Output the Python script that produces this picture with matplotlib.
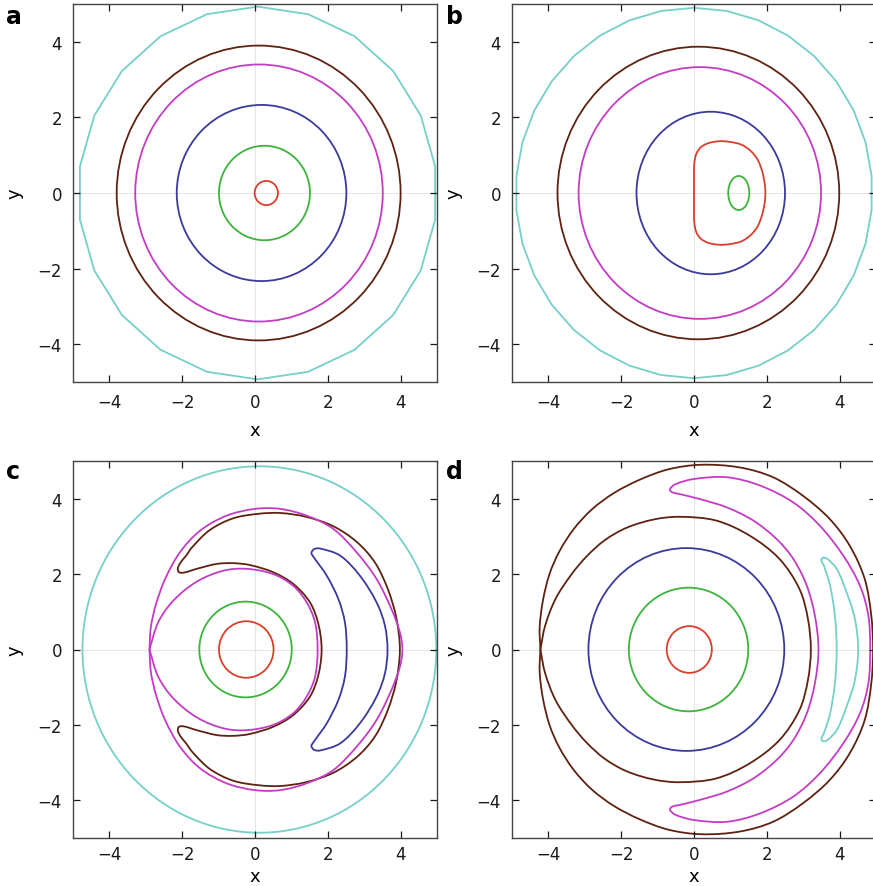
import numpy as np
import matplotlib.pyplot as plt
from matplotlib.patches import Circle, Ellipse, RegularPolygon, PathPatch
from matplotlib.path import Path

plt.rcParams['font.family'] = ['DejaVu Sans']

# contour colours, from the innermost level outwards
colours = {
    'red': '#d8402c',
    'green': '#3cb43c',
    'blue': '#3a3a9c',
    'magenta': '#c43cc4',
    'brown': '#5e2210',
    'cyan': '#74d0c8',
}

ticks = [-4, -2, 0, 2, 4]

# ---- panel a : near-circular levels (centre x, radius)
a_names = ['red', 'green', 'blue', 'magenta', 'brown']
a_cx = [0.31, 0.26, 0.18, 0.11, 0.10]
a_r = [0.32, 1.25, 2.33, 3.40, 3.90]
a_poly = (0.07, 4.93, 22)          # coarse outer cyan contour: cx, r, vertices

# ---- panel b
b_names = ['magenta', 'brown']
b_cx = [0.16, 0.12]
b_r = [3.33, 3.87]
b_ell_names = ['blue', 'green']
b_ell_cx = [0.46, 1.23]
b_ell_rx = [2.04, 0.29]
b_ell_ry = [2.15, 0.45]
b_poly = (0.0, 4.90, 34)
# closed curves are given by their upper half (y >= 0); they are symmetric in y
b_red_x = [0.0, 0.0, 0.01, 0.07, 0.2, 0.4, 0.7, 1.0, 1.3, 1.55, 1.75, 1.88, 1.95, 1.96]
b_red_y = [0.0, 0.5, 0.8, 1.05, 1.22, 1.32, 1.37, 1.35, 1.28, 1.12, 0.88, 0.55, 0.2, 0.0]

# ---- panel c
c_names = ['red', 'green', 'cyan']
c_cx = [-0.24, -0.26, 0.12]
c_r = [0.75, 1.27, 4.86]
c_blue_x = [2.52, 2.47, 2.29, 1.97, 1.62, 1.55, 1.62, 1.78, 2.34, 2.88, 3.34, 3.57, 3.64]
c_blue_y = [0.0, 0.72, 1.34, 1.96, 2.44, 2.56, 2.66, 2.68, 2.49, 1.96, 1.25, 0.63, 0.0]
c_mag_out_x = [-2.90, -2.86, -2.72, -2.47, -2.06, -1.51, -0.78, 0.0, 0.69, 1.42, 2.15, 2.79, 3.34, 3.75, 3.98, 4.05]
c_mag_out_y = [0.0, 0.60, 1.20, 1.87, 2.58, 3.15, 3.55, 3.73, 3.73, 3.55, 3.20, 2.58, 1.87, 1.07, 0.46, 0.0]
c_mag_in_x = [-2.90, -2.66, -2.24, -1.60, -0.87, -0.23, 0.50, 1.05, 1.42, 1.65, 1.72]
c_mag_in_y = [0.0, 0.72, 1.30, 1.80, 2.09, 2.14, 2.00, 1.69, 1.25, 0.72, 0.0]
c_brown_x = [1.83, 1.74, 1.51, 1.05, 0.50, -0.14, -0.60, -1.05, -1.60, -1.95, -2.09,
             -2.12, -2.05, -1.90, -1.72, -1.24, -0.60, 0.10, 0.70, 1.40, 2.15, 2.80, 3.30, 3.65, 3.88, 3.98]
c_brown_y = [0.0, 0.68, 1.25, 1.74, 2.05, 2.24, 2.29, 2.27, 2.14, 2.04, 2.05,
             2.15, 2.30, 2.48, 2.72, 3.17, 3.48, 3.60, 3.62, 3.52, 3.27, 2.85, 2.30, 1.60, 0.85, 0.0]

# ---- panel d
d_names = ['red', 'green', 'blue']
d_cx = [-0.13, -0.15, -0.21]
d_r = [0.62, 1.64, 2.69]
d_brown_out_x = [-4.22, -4.24, -4.15, -3.97, -3.70, -3.30, -2.80, -2.20, -1.50, -0.70, 0.20, 1.25, 2.17,
                 2.99, 3.73, 4.28, 4.69, 4.87, 4.92]
d_brown_out_y = [0.0, 0.60, 1.30, 2.00, 2.60, 3.20, 3.72, 4.15, 4.50, 4.78, 4.90, 4.83, 4.57,
                 4.08, 3.46, 2.75, 1.87, 0.90, 0.0]
d_brown_in_x = [-4.22, -4.09, -3.80, -3.36, -2.95, -2.45, -1.85, -1.10, -0.39, 0.61, 1.53, 2.35, 2.90, 3.13, 3.21]
d_brown_in_y = [0.0, 0.63, 1.35, 2.00, 2.47, 2.90, 3.23, 3.45, 3.52, 3.42, 3.02, 2.40, 1.60, 0.81, 0.0]
d_mag_x = [3.42, 3.32, 3.10, 2.73, 2.27, 1.63, 0.90, 0.16, -0.38, -0.60, -0.66,
           -0.52, -0.02, 0.90, 1.81, 2.73, 3.46, 4.10, 4.56, 4.79, 4.84]
d_mag_y = [0.0, 0.90, 1.69, 2.40, 2.93, 3.42, 3.77, 3.99, 4.12, 4.17, 4.25,
           4.38, 4.52, 4.57, 4.35, 3.90, 3.28, 2.49, 1.69, 0.90, 0.0]
d_cyan_x = [3.92, 3.87, 3.74, 3.57, 3.50, 3.53, 3.64, 3.92, 4.19, 4.42, 4.51]
d_cyan_y = [0.0, 0.90, 1.69, 2.22, 2.36, 2.43, 2.42, 2.14, 1.52, 0.81, 0.0]

LW = 1.3

fig = plt.figure(figsize=(8.73, 8.87), dpi=100)
W, H = 873, 887


def make_axes(left, top, right, bottom, xpad, xlabelpad):
    ax = fig.add_axes([left / W, 1 - bottom / H, (right - left) / W, (bottom - top) / H])
    ax.set_xlim(-5, 5)
    ax.set_ylim(-5, 5)
    ax.set_xticks(ticks)
    ax.set_yticks(ticks)
    ax.set_xticklabels([str(t).replace('-', '\u2212') for t in ticks])
    ax.set_yticklabels([str(t).replace('-', '\u2212') for t in ticks])
    ax.tick_params(direction='in', length=5, width=0.9, top=True, right=True,
                   labelsize=12, pad=8, colors='#1a1a1a')
    ax.tick_params(axis='x', pad=xpad)
    for s in ax.spines.values():
        s.set_color('#444444')
        s.set_linewidth(1.0)
    ax.axhline(0, color='#e6e6e6', lw=0.8, zorder=0)
    ax.axvline(0, color='#e6e6e6', lw=0.8, zorder=0)
    ax.set_xlabel('x', fontsize=13, labelpad=xlabelpad)
    ax.set_ylabel('y', fontsize=13, labelpad=10)
    return ax


def circles(ax, names, cx, r):
    for n, x0, rr in zip(names, cx, r):
        ax.add_patch(Circle((x0, 0), rr, fill=False, ec=colours[n], lw=LW))


def mirrored(ax, xs, ys, name, corner=False):
    # upper half plus its mirror image below the x axis, drawn as a smooth
    # closed bezier path through the read points (optional corner at the start)
    up = np.column_stack([xs, ys]).astype(float)
    low = up[1:-1][::-1] * [1, -1]
    P = np.vstack([up, low])
    n = len(P)
    d = np.linalg.norm(np.roll(P, -1, axis=0) - P, axis=1)   # d[i]: P[i] -> P[i+1]

    def tan(k, side):
        prv, nxt = P[k - 1], P[(k + 1) % n]
        if corner and k == 0:
            return (nxt - P[k]) / d[k] if side == 'out' else (P[k] - prv) / d[k - 1]
        return (nxt - prv) / (d[k - 1] + d[k])

    verts, codes = [P[0]], [Path.MOVETO]
    for i in range(n):
        j = (i + 1) % n
        verts += [P[i] + tan(i, 'out') * d[i] / 3, P[j] - tan(j, 'in') * d[i] / 3, P[j]]
        codes += [Path.CURVE4] * 3
    ax.add_patch(PathPatch(Path(verts, codes), fill=False, ec=colours[name], lw=LW,
                           joinstyle='round'))


def poly(ax, spec, name):
    x0, rr, n = spec
    ax.add_patch(RegularPolygon((x0, 0), n, radius=rr, orientation=0,
                                fill=False, ec=colours[name], lw=LW))


ax_a = make_axes(73, 5, 437, 383, 8, 7)
ax_b = make_axes(512, 5, 876, 383, 8, 7)
ax_c = make_axes(73, 462, 437, 839, 5, 3)
ax_d = make_axes(512, 462, 876, 839, 5, 3)

# a
circles(ax_a, a_names, a_cx, a_r)
poly(ax_a, a_poly, 'cyan')

# b
circles(ax_b, b_names, b_cx, b_r)
for n, x0, rx, ry in zip(b_ell_names, b_ell_cx, b_ell_rx, b_ell_ry):
    ax_b.add_patch(Ellipse((x0, 0), 2 * rx, 2 * ry, fill=False, ec=colours[n], lw=LW))
mirrored(ax_b, b_red_x, b_red_y, 'red')
poly(ax_b, b_poly, 'cyan')

# c
circles(ax_c, c_names, c_cx, c_r)
mirrored(ax_c, c_blue_x, c_blue_y, 'blue')
mirrored(ax_c, c_brown_x, c_brown_y, 'brown')
mirrored(ax_c, c_mag_out_x, c_mag_out_y, 'magenta', corner=True)
mirrored(ax_c, c_mag_in_x, c_mag_in_y, 'magenta', corner=True)

# d
circles(ax_d, d_names, d_cx, d_r)
mirrored(ax_d, d_brown_out_x, d_brown_out_y, 'brown', corner=True)
mirrored(ax_d, d_brown_in_x, d_brown_in_y, 'brown', corner=True)
mirrored(ax_d, d_mag_x, d_mag_y, 'magenta')
mirrored(ax_d, d_cyan_x, d_cyan_y, 'cyan')

for lab, px, py in [('a', 6, 24), ('b', 446, 24), ('c', 6, 479), ('d', 446, 479)]:
    fig.text(px / W, 1 - py / H, lab, fontsize=17, fontweight='bold', va='baseline')

fig.savefig('out.png', dpi=100)
